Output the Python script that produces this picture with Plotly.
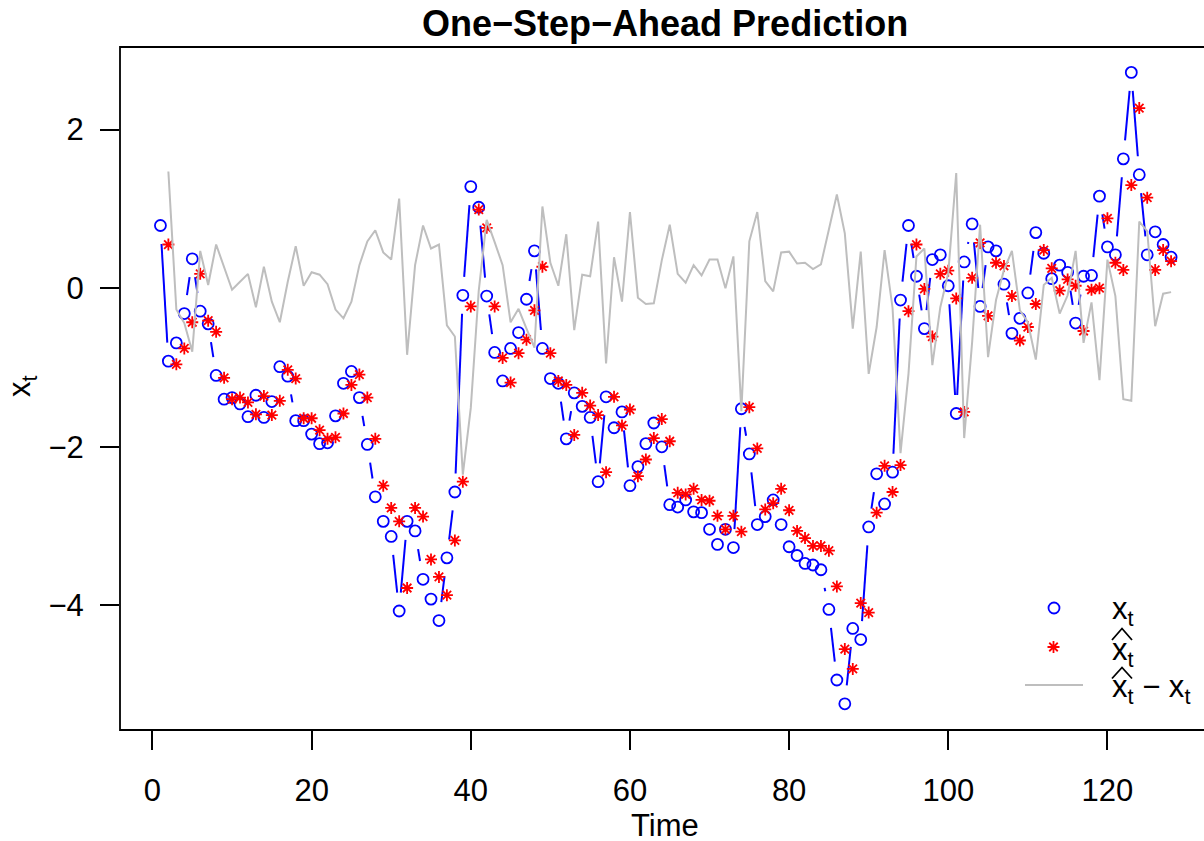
import math
import plotly.graph_objects as go

# ---------------- data ----------------
time = list(range(1, 129))

x_obs = [
    0.79, -0.92, -0.69, -0.32, 0.37, -0.29, -0.45, -1.10, -1.40, -1.38,
    -1.46, -1.62, -1.35, -1.63, -1.43, -0.99, -1.11, -1.67, -1.67, -1.84,
    -1.96, -1.95, -1.61, -1.20, -1.05, -1.38, -1.97, -2.63, -2.94, -3.13,
    -4.07, -2.94, -3.06, -3.67, -3.92, -4.19, -3.40, -2.57, -0.09, 1.28,
    1.02, -0.10, -0.81, -1.17, -0.76, -0.56, -0.14, 0.47, -0.76, -1.14,
    -1.20, -1.90, -1.32, -1.49, -1.63, -2.44, -1.37, -1.76, -1.56, -2.49,
    -2.25, -1.96, -1.70, -2.00, -2.73, -2.76, -2.67, -2.82, -2.83, -3.04,
    -3.23, -3.04, -3.27, -1.52, -2.09, -2.98, -2.88, -2.67, -2.98, -3.26,
    -3.37, -3.47, -3.49, -3.55, -4.05, -4.94, -5.24, -4.29, -4.43, -3.01,
    -2.34, -2.72, -2.32, -0.15, 0.79, 0.15, -0.51, 0.36, 0.42, 0.03,
    -1.58, 0.33, 0.81, -0.23, 0.52, 0.47, 0.05, -0.57, -0.38, -0.06,
    0.70, 0.44, 0.12, 0.29, 0.20, -0.44, 0.15, 0.16, 1.16, 0.52,
    0.42, 1.63, 2.72, 1.43, 0.42, 0.71, 0.55, 0.39,
]

x_pred = [
    None, 0.55, -0.96, -0.76, -0.43, 0.18, -0.41, -0.55, -1.13, -1.40,
    -1.38, -1.44, -1.59, -1.36, -1.60, -1.42, -1.03, -1.14, -1.64, -1.64,
    -1.79, -1.90, -1.88, -1.58, -1.22, -1.09, -1.38, -1.90, -2.49, -2.77,
    -2.94, -3.78, -2.77, -2.88, -3.42, -3.64, -3.87, -3.18, -2.44, -0.23,
    0.99, 0.76, -0.23, -0.88, -1.19, -0.82, -0.65, -0.28, 0.27, -0.82,
    -1.17, -1.22, -1.85, -1.32, -1.48, -1.60, -2.32, -1.37, -1.73, -1.53,
    -2.37, -2.16, -1.89, -1.65, -1.93, -2.58, -2.60, -2.53, -2.67, -2.68,
    -2.87, -3.04, -2.87, -3.07, -1.50, -2.02, -2.79, -2.71, -2.53, -2.80,
    -3.06, -3.15, -3.25, -3.25, -3.31, -3.76, -4.55, -4.80, -3.97, -4.09,
    -2.83, -2.24, -2.57, -2.23, -0.29, 0.55, -0.01, -0.61, 0.18, 0.22,
    -0.13, -1.56, 0.13, 0.57, -0.35, 0.32, 0.28, -0.10, -0.66, -0.49,
    -0.20, 0.48, 0.25, -0.03, 0.11, 0.03, -0.54, -0.02, 0.00, 0.88,
    0.32, 0.23, 1.30, 2.27, 1.14, 0.23, 0.48, 0.34,
]

x_ticks = [0, 20, 40, 60, 80, 100, 120]
y_ticks = [-4, -2, 0, 2]

# prediction error series shown in grey
resid = [p - o if p is not None else None for p, o in zip(x_pred, x_obs)]

# ---------------- geometry ----------------
W, H = 1204, 841
ML, MR, MT, MB = 120, 0, 47, 111
PW, PH = W - ML - MR, H - MT - MB
SX = 7.958
X0 = -4.08
XR = [X0, X0 + PW / SX]
YR = [-5.57, 3.04]
SY = PH / (YR[1] - YR[0])

def px(xp):
    return (xp - ML) / PW

def py(yp):
    return (H - MB - yp) / PH

# type="b" style line: segments with gaps around the points
GAP = 18.5
seg_x, seg_y = [], []
for i in range(len(time) - 1):
    x1, y1, x2, y2 = time[i], x_obs[i], time[i + 1], x_obs[i + 1]
    L = math.hypot((x2 - x1) * SX, (y2 - y1) * SY)
    if L > 2 * GAP:
        f = GAP / L
        seg_x += [x1 + f * (x2 - x1), x2 - f * (x2 - x1), None]
        seg_y += [y1 + f * (y2 - y1), y2 - f * (y2 - y1), None]

FONT = "Liberation Sans, Arial, Helvetica, sans-serif"
BLUE = "#0000FF"
RED = "#FF0000"
GREY = "#BEBEBE"

CIRCLE = dict(symbol="circle-open", size=11, color=BLUE, line=dict(color=BLUE, width=1.8))
STAR = dict(symbol="asterisk-open", size=10, color=RED, line=dict(color=RED, width=1.8))

fig = go.Figure()
fig.add_trace(go.Scatter(x=seg_x, y=seg_y, mode="lines",
                         line=dict(color=BLUE, width=2), hoverinfo="skip"))
fig.add_trace(go.Scatter(x=time, y=x_obs, mode="markers", marker=CIRCLE))
fig.add_trace(go.Scatter(x=time, y=x_pred, mode="markers", marker=STAR))
fig.add_trace(go.Scatter(x=time, y=resid, mode="lines",
                         line=dict(color=GREY, width=2), connectgaps=False))

# legend markers on an overlay axis in plot-fraction units
fig.add_trace(go.Scatter(x=[px(1054)], y=[py(608)], mode="markers", xaxis="x2", yaxis="y2",
                         cliponaxis=False, marker=CIRCLE))
fig.add_trace(go.Scatter(x=[px(1053.5)], y=[py(647)], mode="markers", xaxis="x2", yaxis="y2",
                         cliponaxis=False, marker=STAR))

shapes = [
    # box (right side runs off the page as in the reference)
    dict(type="rect", xref="paper", yref="paper", x0=0, x1=1.05, y0=0, y1=1,
         line=dict(color="black", width=1.8), layer="above"),
    # legend grey line
    dict(type="line", xref="paper", yref="paper", x0=px(1025), x1=px(1083),
         y0=py(685), y1=py(685), line=dict(color=GREY, width=2)),
]
# hats over the legend x's
for top, bot in [(628.5, 640), (667.5, 678.5)]:
    shapes.append(dict(type="path", xref="paper", yref="paper",
                       path=f"M {px(1112)},{py(bot)} L {px(1122)},{py(top)} L {px(1132)},{py(bot)}",
                       line=dict(color="black", width=1.8)))

annotations = [
    dict(text="<b>One\u2212Step\u2212Ahead Prediction</b>", xref="paper", yref="paper",
         x=px(665), y=py(24), xanchor="center", yanchor="middle", showarrow=False,
         font=dict(family=FONT, size=36, color="black")),
    dict(text="Time", xref="paper", yref="paper", x=px(665), y=py(825),
         xanchor="center", yanchor="middle", showarrow=False, height=30,
         font=dict(family=FONT, size=31, color="black")),
    dict(text="x<sub>t</sub>", xref="paper", yref="paper", x=px(22), y=py(386),
         xanchor="center", yanchor="middle", showarrow=False, textangle=-90,
         font=dict(family=FONT, size=31, color="black")),
    dict(text="x<sub>t</sub>", xref="paper", yref="paper", x=px(1110), y=py(611),
         xanchor="left", yanchor="middle", showarrow=False,
         font=dict(family=FONT, size=31, color="black")),
    dict(text="x<sub>t</sub>", xref="paper", yref="paper", x=px(1110), y=py(652),
         xanchor="left", yanchor="middle", showarrow=False,
         font=dict(family=FONT, size=31, color="black")),
    dict(text="x<sub>t</sub> \u2212 x<sub>t</sub>", xref="paper", yref="paper", x=px(1110), y=py(689),
         xanchor="left", yanchor="middle", showarrow=False,
         font=dict(family=FONT, size=31, color="black")),
]

fig.update_layout(
    width=W, height=H,
    margin=dict(l=ML, r=MR, t=MT, b=MB, pad=0),
    paper_bgcolor="white", plot_bgcolor="white",
    showlegend=False,
    font=dict(family=FONT, size=31, color="black"),
    xaxis=dict(range=XR, tickvals=x_ticks, ticks="outside", ticklen=19, tickwidth=1.8,
               tickcolor="black", showgrid=False, zeroline=False, showline=False,
               ticklabelstandoff=14, tickfont=dict(family=FONT, size=31)),
    yaxis=dict(range=YR, tickvals=y_ticks, ticks="outside", ticklen=19, tickwidth=1.8,
               tickcolor="black", showgrid=False, zeroline=False, showline=False,
               ticklabelstandoff=10, tickfont=dict(family=FONT, size=31)),
    xaxis2=dict(range=[0, 1], overlaying="x", visible=False, fixedrange=True),
    yaxis2=dict(range=[0, 1], overlaying="y", visible=False, fixedrange=True),
    shapes=shapes,
    annotations=annotations,
)

fig.write_html("out.html")
